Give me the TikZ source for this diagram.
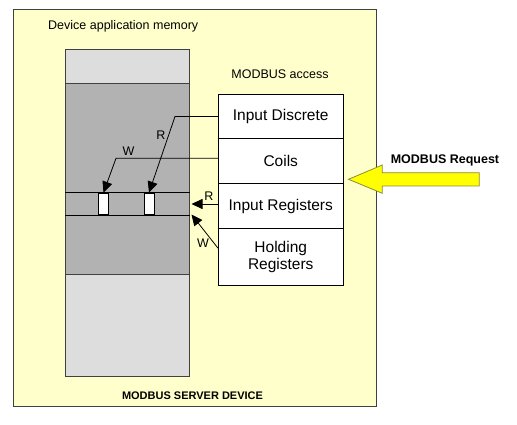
\documentclass[tikz,border=0pt]{standalone}
\usepackage{fontspec}
\setmainfont{Liberation Sans}
\usetikzlibrary{arrows.meta}
\definecolor{bgyellow}{HTML}{FFFFCC}
\definecolor{memlight}{HTML}{DDDDDD}
\definecolor{memdark}{HTML}{B2B2B2}
\definecolor{reqyellow}{HTML}{FFFF00}
\definecolor{reqedge}{HTML}{8C8C3C}
\definecolor{frame}{HTML}{404040}
\tikzset{
  regbox/.style={draw=black, line width=0.9pt, fill=white, minimum width=124.5pt, inner sep=0pt, font=\fontsize{15.5}{17.5}\selectfont, align=center},
  cellbox/.style={draw=black, line width=0.8pt, fill=white, minimum width=10pt, minimum height=21pt, inner sep=0pt},
  conn/.style={draw=black, line width=0.8pt, -{Triangle[length=11pt,width=10pt]}},
  lbl/.style={font=\fontsize{12.5}{14}\selectfont, inner sep=0pt},
  boldlbl/.style={font=\bfseries\fontsize{12.5}{14}\selectfont, inner sep=0pt},
}
\begin{document}
\begin{tikzpicture}[x=1pt,y=-1pt]
\useasboundingbox (0,0) rectangle (517,425);
% outer device box
\draw[frame, fill=bgyellow, line width=0.9pt] (13.5,9.5) rectangle (376.5,406);
\node[lbl, anchor=west] (devmem) at (48,26) {Device application memory};
\node[font=\bfseries\fontsize{11}{13}\selectfont, inner sep=0pt] (server) at (192.5,396) {MODBUS SERVER DEVICE};
% memory column
\fill[memlight] (65,49) rectangle (189,83);
\fill[memdark] (65,83) rectangle (189,274);
\fill[memlight] (65,274) rectangle (189,376);
\draw[black!75, line width=0.8pt] (65,83) -- (189,83) (65,274) -- (189,274);
\node[draw=black!75, line width=0.8pt, minimum width=124pt, minimum height=327pt, inner sep=0pt] (mem) at (127,212.5) {};
\draw[black, line width=0.8pt] (65,192.5) -- (190,192.5) (65,215) -- (190,215);
\node[cellbox] (cellA) at (103.5,203.5) {};
\node[cellbox] (cellB) at (149,203.5) {};
% MODBUS access table
\node[lbl] (access) at (280,74.5) {MODBUS access};
\node[regbox, minimum height=44pt] (reg1) at (280.75,116.5) {Input Discrete};
\node[regbox, minimum height=45pt] (reg2) at (280.75,161) {Coils};
\node[regbox, minimum height=45pt] (reg3) at (280.75,206) {Input Registers};
\node[regbox, minimum height=56.5pt] (reg4) at (280.75,256.75) {Holding\\Registers};
% connectors
\coordinate (bendR) at (175,116.5);
\coordinate (bendW) at (116,158.3);
\coordinate (tipR) at (191.5,204);
\coordinate (tipW) at (191.5,214.5);
\draw[conn] (reg1.west) -- (bendR) -- (cellB.north);
\draw[conn] ([yshift=2.7pt]reg2.west) -- (bendW) -- (cellA.north);
\draw[conn] ([yshift=2pt]reg3.west) -- (tipR);
\draw[conn] ([yshift=8.5pt]reg4.west) -- (tipW);
\node[lbl] (lR1) at (161,135) {R};
\node[lbl] (lW1) at (128.5,151) {W};
\node[lbl] (lR2) at (209,196) {R};
\node[lbl] (lW2) at (203,243) {W};
% MODBUS request arrow
\draw[reqedge, fill=reqyellow, line width=0.8pt, line join=miter]
  (348.5,179.3) -- (382.3,165) -- (382.3,172.7) -- (479.3,172.7) -- (479.3,186) -- (382.3,186) -- (382.3,193.3) -- cycle;
\node[boldlbl] (req) at (445,160) {MODBUS Request};
\end{tikzpicture}
\end{document}
